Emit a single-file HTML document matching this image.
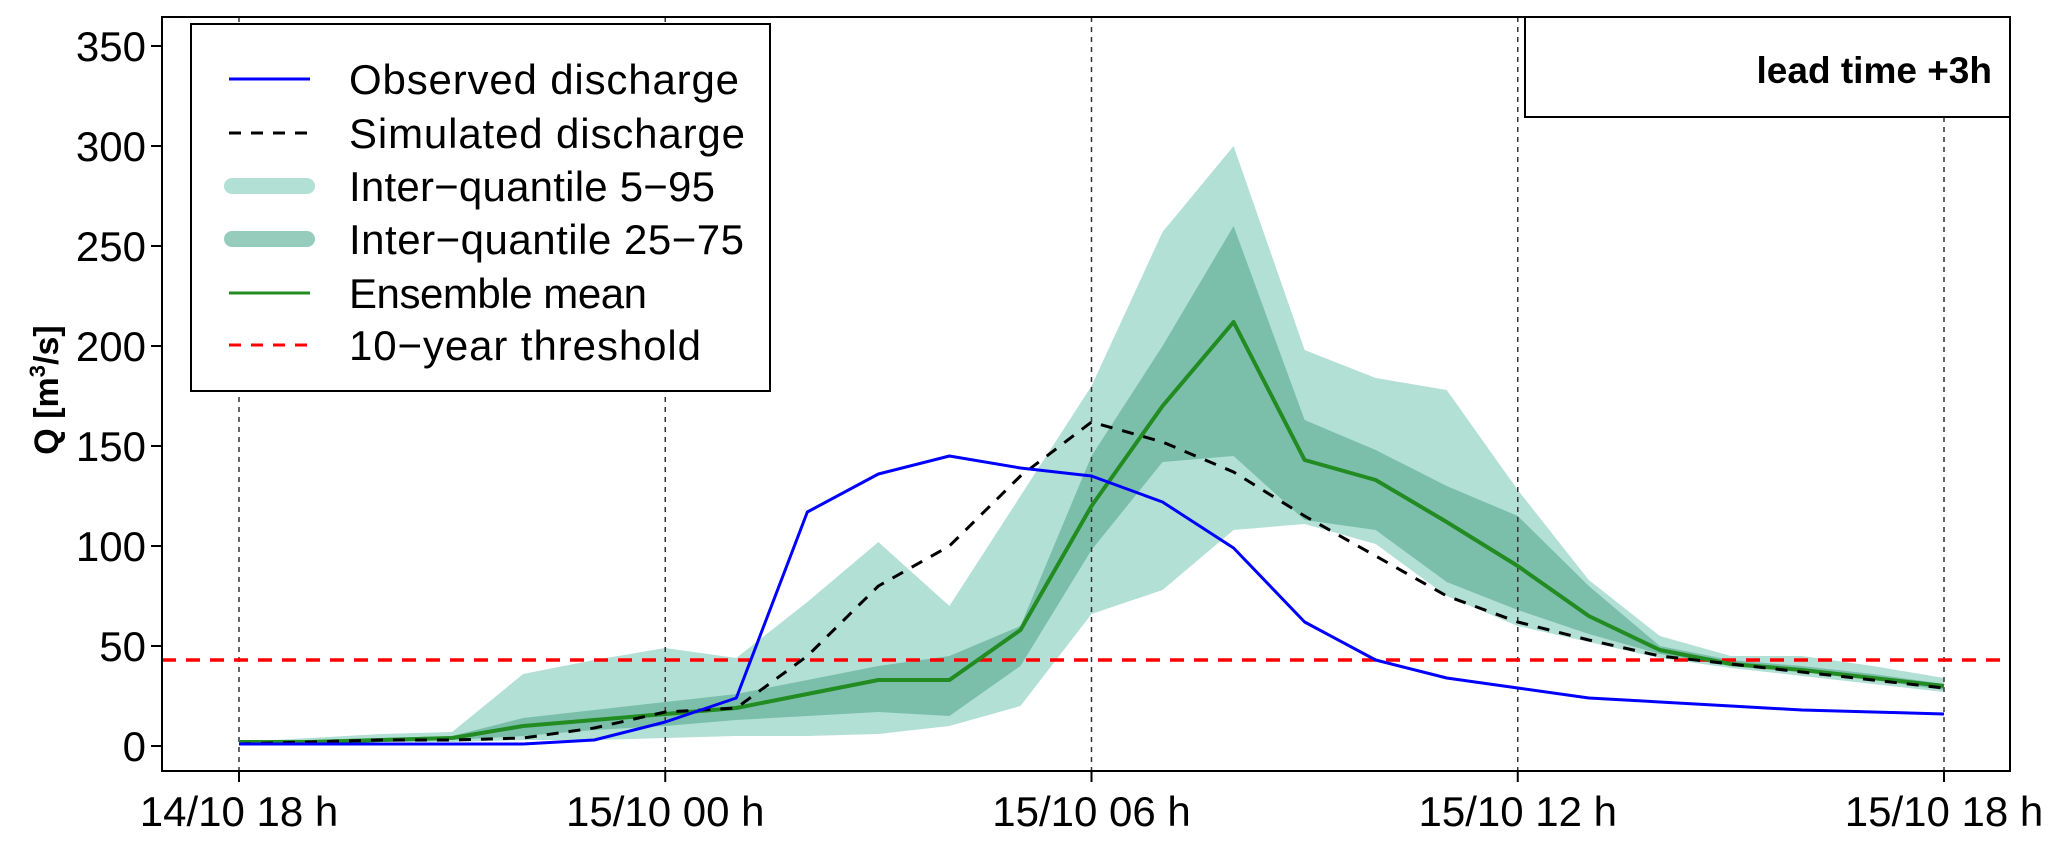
<!DOCTYPE html>
<html><head><meta charset="utf-8"><style>
html,body{margin:0;padding:0;background:#fff;}
svg text{font-family:"Liberation Sans",Arial,sans-serif;}
</style></head><body>
<svg id="chart" width="2067" height="839" viewBox="0 0 2067 839" xmlns="http://www.w3.org/2000/svg">
<g id="bands"></g>
<g id="grid"></g>
<g id="lines"></g>
<g id="axes"></g>
<rect x="162" y="17" width="1848" height="754" fill="none" stroke="#000" stroke-width="2"/>
<text transform="translate(58,390) rotate(-90)" text-anchor="middle" font-size="34" font-weight="bold">Q [m<tspan dy="-13" font-size="22">3</tspan><tspan dy="13">/s]</tspan></text>
<g>
<rect x="191" y="24" width="579" height="367" fill="#fff" stroke="#000" stroke-width="2"/>
<line x1="229" y1="79" x2="310" y2="79" stroke="#0000ff" stroke-width="3"/>
<text x="349" y="94" font-size="42" textLength="390">Observed discharge</text>
<line x1="229" y1="133" x2="310" y2="133" stroke="#000" stroke-width="3" stroke-dasharray="12,10"/>
<text x="349" y="148" font-size="42" textLength="396">Simulated discharge</text>
<line x1="232" y1="186" x2="307" y2="186" stroke="#b2e0d4" stroke-width="16" stroke-linecap="round"/>
<text x="349" y="201" font-size="42" textLength="366">Inter−quantile 5−95</text>
<line x1="232" y1="239" x2="307" y2="239" stroke="#96ccbc" stroke-width="16" stroke-linecap="round"/>
<text x="349" y="254" font-size="42" textLength="395">Inter−quantile 25−75</text>
<line x1="229" y1="293" x2="310" y2="293" stroke="#228b22" stroke-width="3"/>
<text x="349" y="308" font-size="42" textLength="298">Ensemble mean</text>
<line x1="229" y1="345" x2="310" y2="345" stroke="#ff0000" stroke-width="3" stroke-dasharray="12,10"/>
<text x="349" y="360" font-size="42" textLength="352">10−year threshold</text>
</g>
<rect x="1525" y="17" width="485" height="100" fill="#fff" stroke="#000" stroke-width="2"/>
<text x="1992" y="83" text-anchor="end" font-size="37" font-weight="bold">lead time +3h</text>
</svg>
<script>
const hours = [0,1,2,3,4,5,6,7,8,9,10,11,12,13,14,15,16,17,18,19,20,21,22,23,24];
const observed = [1,1,1,1,1,3,12,24,117,136,145,139,135,122,99,62,43,34,29,24,22,20,18,17,16];
const simulated = [1,2,3,3,4,9,17,19,45,80,100,135,162,152,137,115,95,75,62,53,45,41,37,33,29];
const ensMean = [2,2,3,4,10,13,16,19,26,33,33,58,120,170,212,143,133,112,90,65,48,41,38,34,30];
const q05 = [1,1,2,2,3,3,4,5,5,6,10,20,66,78,108,111,101,75,60,52,44,39,35,31,27];
const q95 = [2,4,6,7,36,43,49,44,72,102,70,125,180,257,300,198,184,178,128,83,55,45,45,40,34];
const q25 = [1,2,2,3,5,8,10,13,15,17,15,40,98,142,145,113,108,82,68,56,46,40,37,33,28];
const q75 = [2,3,4,5,14,18,22,26,33,40,45,60,145,200,260,163,148,130,115,80,50,43,40,36,31];
const threshold = 43;
const yTicks = [0,50,100,150,200,250,300,350];
const xTickHours = [0,6,12,18,24];
const xTickLabels = ["14/10 18 h","15/10 00 h","15/10 06 h","15/10 12 h","15/10 18 h"];

const NS="http://www.w3.org/2000/svg";
const X = h => 239 + h*(1944-239)/24;
const Y = v => 746 - v*(700/350);
function mk(tag, attrs, parent){const e=document.createElementNS(NS,tag);for(const k in attrs)e.setAttribute(k,attrs[k]);parent.appendChild(e);return e;}
const bands=document.getElementById('bands'), grid=document.getElementById('grid'), lines=document.getElementById('lines'), axes=document.getElementById('axes');
function band(lo,hi,color){
  let d='M'+hours.map((h,i)=>X(h)+','+Y(hi[i])).join(' L');
  for(let i=hours.length-1;i>=0;i--) d+=' L'+X(hours[i])+','+Y(lo[i]);
  return mk('path',{d:d+'Z',fill:color,stroke:'none'},bands);
}
let b1=band(q05,q95,'#b2e0d4');


let b2=band(q25,q75,'#7bbfaa');


xTickHours.forEach((h,i)=>{
  let g=mk('line',{x1:X(h),x2:X(h),y1:17,y2:771,stroke:'#333','stroke-width':1.5,'stroke-dasharray':'5,5'},grid);
  
  
  let t=mk('line',{x1:X(h),x2:X(h),y1:771,y2:782,stroke:'#000','stroke-width':2},axes);
  
  
  let l=mk('text',{x:X(h),y:826,'text-anchor':'middle','font-size':42},axes);
  l.textContent=xTickLabels[i];
  
  
});
yTicks.forEach(v=>{
  let t=mk('line',{x1:151,x2:162,y1:Y(v),y2:Y(v),stroke:'#000','stroke-width':2},axes);
  
  
  let l=mk('text',{x:146,y:Y(v)+15,'text-anchor':'end','font-size':42},axes);
  l.textContent=v;
  
  
});
function line(vals,color,w,dash){
  const a={points:hours.map((h,i)=>X(h)+','+Y(vals[i])).join(' '),fill:'none',stroke:color,'stroke-width':w,'stroke-linejoin':'round'};
  if(dash)a['stroke-dasharray']=dash;
  return mk('polyline',a,lines);
}
let th=mk('line',{x1:162,x2:2010,y1:Y(threshold),y2:Y(threshold),stroke:'#ff0000','stroke-width':3.5,'stroke-dasharray':'14,10'},lines);


let lm=line(ensMean,'#228b22',4);


let ls=line(simulated,'#000',3,'12,10');


let lo=line(observed,'#0000ff',3);


</script>
</body></html>
